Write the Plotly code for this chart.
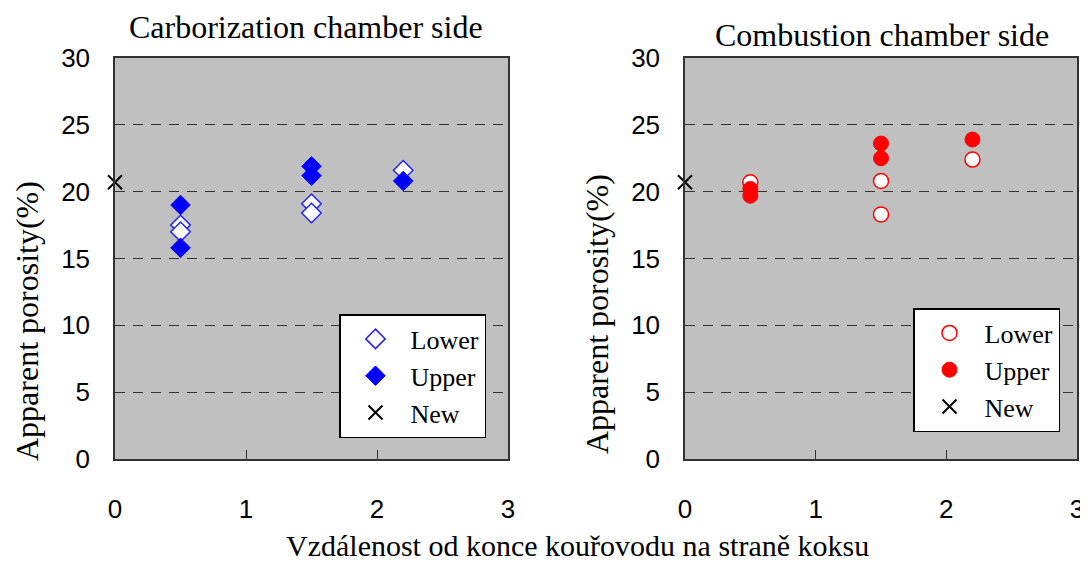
import plotly.graph_objects as go

# ---- data ----
carb_lower_x = [0.5, 0.5, 1.5, 1.5, 2.2]
carb_lower_y = [17.5, 17.0, 19.1, 18.4, 21.6]
carb_upper_x = [0.5, 0.5, 1.5, 1.5, 2.2]
carb_upper_y = [19.0, 15.8, 21.9, 21.2, 20.8]

comb_lower_x = [0.5, 1.5, 1.5, 2.2]
comb_lower_y = [20.7, 20.8, 18.3, 22.4]
comb_upper_x = [0.5, 0.5, 1.5, 1.5, 2.2]
comb_upper_y = [20.2, 19.7, 23.6, 22.5, 23.9]

new_x = [0]
new_y = [20.7]

x_ticks = [0, 1, 2, 3]
y_ticks = [0, 5, 10, 15, 20, 25, 30]

series_names = ["Lower", "Upper", "New"]
panel_titles = ["Carborization chamber side", "Combustion chamber side"]
y_title = "Apparent porosity(%)"
x_title = "Vzdálenost od konce kouřovodu na straně koksu"

# page body has an 8px margin: lay out in window pixels, then shift
OFF = 8
W, H = 1088 - OFF, 563 - OFF
def px(x):
    return (x - OFF) / W
def py(y):
    return 1 - (y - OFF) / H

SERIF = "Liberation Serif, Times New Roman, serif"
SANS = "Liberation Sans, Arial, sans-serif"

fig = go.Figure()

# Left panel
fig.add_trace(go.Scatter(x=carb_lower_x, y=carb_lower_y, mode="markers", name=series_names[0],
                         marker=dict(symbol="diamond", size=15, color="white",
                                     line=dict(color="#2222ee", width=1.5)),
                         xaxis="x", yaxis="y", legend="legend", cliponaxis=False))
fig.add_trace(go.Scatter(x=carb_upper_x, y=carb_upper_y, mode="markers", name=series_names[1],
                         marker=dict(symbol="diamond", size=15, color="#0000ff",
                                     line=dict(color="#0000ff", width=1)),
                         xaxis="x", yaxis="y", legend="legend", cliponaxis=False))
fig.add_trace(go.Scatter(x=new_x, y=new_y, mode="markers", name=series_names[2],
                         marker=dict(symbol="x-thin", size=14, color="black",
                                     line=dict(color="black", width=2)),
                         xaxis="x", yaxis="y", legend="legend", cliponaxis=False))

# Right panel
fig.add_trace(go.Scatter(x=comb_lower_x, y=comb_lower_y, mode="markers", name=series_names[0],
                         marker=dict(symbol="circle", size=15, color="white",
                                     line=dict(color="#ff0000", width=1.5)),
                         xaxis="x2", yaxis="y2", legend="legend2", cliponaxis=False))
fig.add_trace(go.Scatter(x=comb_upper_x, y=comb_upper_y, mode="markers", name=series_names[1],
                         marker=dict(symbol="circle", size=15, color="#ff0000",
                                     line=dict(color="#ff0000", width=1)),
                         xaxis="x2", yaxis="y2", legend="legend2", cliponaxis=False))
fig.add_trace(go.Scatter(x=new_x, y=new_y, mode="markers", name=series_names[2],
                         marker=dict(symbol="x-thin", size=14, color="black",
                                     line=dict(color="black", width=2)),
                         xaxis="x2", yaxis="y2", legend="legend2", cliponaxis=False))

ydom = [py(459), py(58)]

xcommon = dict(range=[0, 3], tickvals=x_ticks, ticks="inside", ticklen=9, tickcolor="#333",
               showgrid=False, zeroline=False, showline=True, mirror=True,
               linecolor="#333", linewidth=1.5, automargin=False,
               tickfont=dict(family=SANS, size=26, color="black"),
               ticklabelstandoff=26, fixedrange=True)
ycommon = dict(range=[0, 30], tickvals=y_ticks, ticks="inside", ticklen=9, tickcolor="#333",
               showgrid=True, gridcolor="#333", gridwidth=1, griddash="10px,8px",
               zeroline=False, showline=True, mirror=True,
               linecolor="#333", linewidth=1.5, automargin=False,
               tickfont=dict(family=SANS, size=26, color="black"),
               ticklabelstandoff=18, domain=ydom, fixedrange=True)

legcommon = dict(bgcolor="white", bordercolor="black", borderwidth=1.5,
                 font=dict(family=SERIF, size=26, color="black"),
                 xanchor="left", yanchor="top", itemsizing="trace",
                 itemwidth=60, tracegroupgap=0)

fig.update_layout(
    width=W, height=H,
    margin=dict(l=0, r=0, t=0, b=0),
    paper_bgcolor="white",
    plot_bgcolor="#c0c0c0",
    xaxis=dict(xcommon, domain=[px(115), px(508)], anchor="y"),
    yaxis=dict(ycommon, anchor="x"),
    xaxis2=dict(xcommon, domain=[px(685), px(1077)], anchor="y2"),
    yaxis2=dict(ycommon, anchor="x2"),
    legend=dict(legcommon, x=px(339), y=py(314)),
    legend2=dict(legcommon, x=px(913), y=py(308)),
    showlegend=True,
    annotations=[
        dict(text=panel_titles[0], x=px(306), y=py(27), xref="paper", yref="paper",
             showarrow=False, font=dict(family=SERIF, size=32, color="black"),
             xanchor="center", yanchor="middle"),
        dict(text=panel_titles[1], x=px(882), y=py(35), xref="paper", yref="paper",
             showarrow=False, font=dict(family=SERIF, size=32, color="black"),
             xanchor="center", yanchor="middle"),
        dict(text=y_title, x=px(27), y=py(321), xref="paper", yref="paper",
             showarrow=False, textangle=-90, font=dict(family=SERIF, size=32, color="black"),
             xanchor="center", yanchor="middle"),
        dict(text=y_title, x=px(597), y=py(314), xref="paper", yref="paper",
             showarrow=False, textangle=-90, font=dict(family=SERIF, size=32, color="black"),
             xanchor="center", yanchor="middle"),
        dict(text=x_title, x=px(577), y=py(545), xref="paper", yref="paper",
             showarrow=False, font=dict(family=SERIF, size=30, color="black"),
             xanchor="center", yanchor="middle"),
    ],
)

fig.write_html("out.html")
